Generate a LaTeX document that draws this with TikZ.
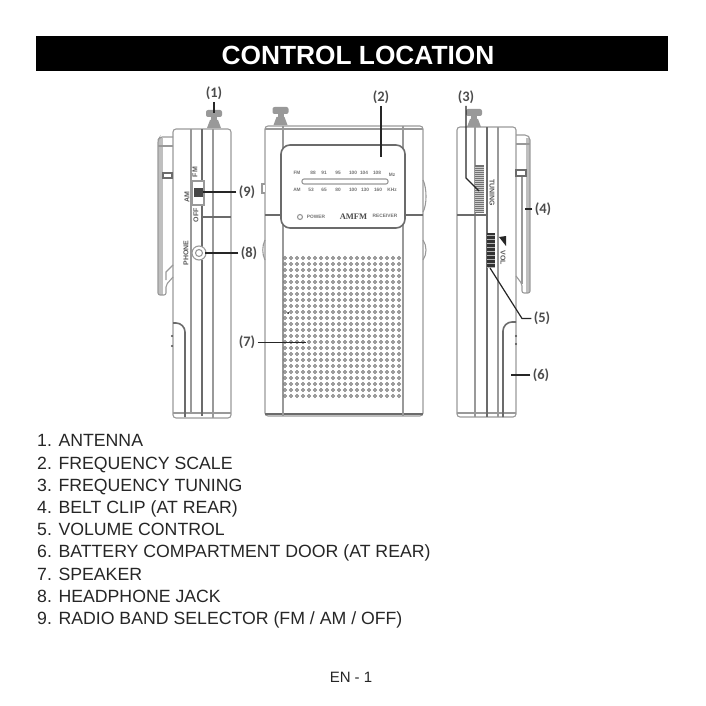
\documentclass[tikz,border=0pt]{standalone}
\usepackage{fontspec}
\setmainfont{Liberation Sans}
\newfontfamily\calloutfont{Carlito}
\newfontfamily\logofont{Liberation Serif}
\definecolor{bodyline}{gray}{0.6}
\definecolor{darkline}{gray}{0.42}
\definecolor{leaderline}{gray}{0.15}
\tikzset{
  bodyedge/.style={draw=bodyline,line width=1.1pt},
  darkedge/.style={draw=darkline,line width=1.6pt},
  leader/.style={draw=leaderline,line width=1.2pt},
  callout/.style={inner sep=0pt,outer sep=2.5pt,font=\calloutfont\bfseries\fontsize{14.5}{15}\selectfont,text=black!70},
  listitem/.style={anchor=west,inner sep=0pt,text height=13pt,text depth=3pt,font=\fontsize{17.7}{18}\selectfont,text=black!85},
  tinytext/.style={inner sep=0pt,font=\bfseries\fontsize{4.8}{5}\selectfont,text=black!55},
  sidetext/.style={inner sep=0pt,font=\bfseries\fontsize{7}{7}\selectfont,text=black!65},
}
\newcommand{\antenna}[2]{%
  \fill[bodyline] (#1-7,#2) -- (#1-4,#2-8) -- (#1+4,#2-8) -- (#1+7,#2) -- cycle;
  \fill[bodyline] (#1-3,#2-7) rectangle (#1+3,#2-12);
  \fill[bodyline,rounded corners=2pt] (#1-8,#2-11) rectangle (#1+8,#2-18);
}
\begin{document}
\begin{tikzpicture}[x=1pt,y=-1pt]
    \useasboundingbox (0,0) rectangle (706,706);

    % title bar
    \fill[black] (36,36) rectangle (668,71);
    \node (title) at (358,55) [inner sep=0pt,text=white,font=\bfseries\fontsize{26.3}{27}\selectfont] {CONTROL LOCATION};

    % left view
    \antenna{214}{128}
    \draw[bodyedge,rounded corners=3pt] (173,129) rectangle (231,418);
    \draw[bodyedge] (173,413) -- (231,413);
    \draw[bodyedge] (191,129) -- (191,413);
    \draw[darkedge] (202,129) -- (202,181);
    \draw[darkedge] (202,205) -- (202,248);
    \draw[darkedge] (202,260) -- (202,416);
    \draw[bodyedge] (213,129) -- (213,418);
    \draw[darkedge] (203,217) -- (231,217);
    \draw[darkedge,rounded corners=9pt] (173,323) -- (185,323) -- (185,417);
    \draw[bodyedge,fill=white] (192,181) rectangle (204,205);
    \fill[black!72] (193.5,188) rectangle (203,197);
    \fill[black!25] (158,138) rectangle (163,295);
    \draw[bodyedge,rounded corners=2pt] (173,137) -- (160,137) -- (158,140) -- (158,295) -- (166,295) -- (166,285) -- (173,277);
    \draw[bodyedge] (158,146) -- (173,146);
    \draw[bodyedge] (166,280) -- (166,272) -- (173,265);
    \draw[darkedge] (163,173) rectangle (172,178);
    \draw[bodyedge,fill=white] (199,253) circle (7);
    \draw[bodyedge] (199,253) circle (3.5);
    \fill[black!70] (172,336) circle (1.2);
    \fill[black!70] (172,346) circle (1.2);
    \node (fmleft) at (195,172) [sidetext,rotate=90] {FM};
    \node (amleft) at (187,197) [sidetext,rotate=90] {AM};
    \node (offleft) at (196,215) [sidetext,rotate=90] {OFF};
    \node (phoneleft) at (186,253) [sidetext,rotate=90] {PHONE};

    % front view
    \antenna{280.5}{125}
    \draw[bodyedge,rounded corners=3pt] (265,126) rectangle (423,416);
    \draw[bodyedge] (265,129) -- (423,129);
    \draw[darkedge] (265,414) -- (423,414);
    \draw[bodyedge] (283,126) -- (283,416);
    \draw[bodyedge] (403,126) -- (403,416);
    \draw[darkedge] (265,215) -- (283,215);
    \draw[darkedge] (403,215) -- (423,215);
    \draw[bodyedge,fill=white] (265,184) -- (262,184) -- (262,193) -- (265,193);
    \draw[bodyedge] (423,180) .. controls (427,188) and (427,205) .. (423,212);
    \draw[bodyedge] (423,240) .. controls (427,246) and (427,254) .. (423,260);
    \draw[bodyedge] (265,240) .. controls (262,246) and (262,254) .. (265,260);
    \draw[darkedge,fill=white,rounded corners=9pt] (281,145) rectangle (405,228);
    \draw[bodyedge,rounded corners=2pt] (302,179) rectangle (388,184);
    \node (fm) at (297,173) [tinytext] {FM};
    \foreach \x/\val in {313/88,324/91,338/95,353/100,364/104,377/108}
        \node at (\x,173) [tinytext] {\val};
    \node (mhz) at (392,175) [tinytext] {Mz};
    \node (am) at (297,190) [tinytext] {AM};
    \foreach \x/\val in {311/53,324/65,338/80,353/100,365/130,378/160}
        \node at (\x,190) [tinytext] {\val};
    \node (khz) at (392,190) [tinytext] {KHz};
    \draw[bodyedge] (300,217) circle (2.5);
    \node (power) at (316,217) [tinytext] {POWER};
    \node (amfm) at (353.5,217) [inner sep=0pt,text=black!70,font=\logofont\bfseries\fontsize{8.5}{9}\selectfont] {AMFM};
    \node (receiver) at (385,216) [tinytext] {RECEIVER};
    \foreach \i in {0,...,19}
        \foreach \j in {0,...,23}
            \draw[draw=black!52,line width=0.75pt] (285+\i*6,258+\j*6) circle (1.5);
    \fill[black] (288,313) circle (1);

    % right view
    \antenna{474}{127}
    \draw[bodyedge,rounded corners=3pt] (457,127) rectangle (516,417);
    \draw[bodyedge] (457,413) -- (516,413);
    \draw[bodyedge] (475,127) -- (475,417);
    \draw[darkedge] (487,127) -- (487,417);
    \draw[bodyedge] (498,127) -- (498,417);
    \fill[black!55] (475,165) rectangle (484,213);
    \foreach \y in {167,169,...,211}
        \draw[white!80!black,line width=0.4pt] (475,\y) -- (484,\y);
    \draw[darkedge] (457,215) -- (487,215);
    \fill[black!80] (487,233) rectangle (495,267);
    \foreach \y in {235,239,...,267}
        \draw[white!70!black,line width=0.5pt] (487,\y) -- (495,\y);
    \node (tuning) at (492,193) [sidetext,rotate=-90] {TUNING};
    \node (vol) at (503,258) [sidetext,rotate=-90] {VOL};
    \fill[black!85] (499,237) -- (506,236) -- (506,246) -- cycle;
    \draw[darkedge,rounded corners=9pt] (516,322) -- (503,322) -- (503,417);
    \fill[black!25] (526,138) rectangle (530,293);
    \draw[bodyedge,rounded corners=2pt] (516,135) -- (527,135) -- (530,138) -- (530,293) -- (522,293) -- (522,284) -- (516,276);
    \draw[bodyedge] (516,144) -- (530,144);
    \draw[bodyedge] (522,176) -- (522,284);
    \draw[darkedge] (516,170) rectangle (526,176);
    \fill[black!70] (516,336) circle (1.2);
    \fill[black!70] (516,344) circle (1.2);

    % callouts
    \node[callout] (1) at (214,93) {(1)};
    \node[callout] (2) at (381,97) {(2)};
    \node[callout] (3) at (466,97) {(3)};
    \node[callout] (4) at (543,209) {(4)};
    \node[callout] (5) at (542,318.5) {(5)};
    \node[callout] (6) at (541,375) {(6)};
    \node[callout] (7) at (247,342.5) {(7)};
    \node[callout] (8) at (249,253) {(8)};
    \node[callout] (9) at (247,192) {(9)};

    \coordinate (1e) at (214,113);
    \coordinate (2e) at (381,157);
    \coordinate (3a) at (466,178);
    \coordinate (3e) at (479,191);
    \coordinate (4e) at (525,209);
    \coordinate (5a) at (522,318.5);
    \coordinate (5e) at (490,268);
    \coordinate (6e) at (511,375);
    \coordinate (7e) at (306,342.5);
    \coordinate (8e) at (205,253);
    \coordinate (9e) at (203,192);

    \draw[leader] (1) -- (1e);
    \draw[leader] (2) -- (2e);
    \draw[leader] (3) -- (3a) -- (3e);
    \draw[leader] (4) -- (4e);
    \draw[leader] (5) -- (5a) -- (5e);
    \draw[leader] (6) -- (6e);
    \draw[leader] (7) -- (7e);
    \draw[leader] (8) -- (8e);
    \draw[leader] (9) -- (9e);

    % parts list
    \node[listitem] (i1) at (37,441) {1. ANTENNA};
    \node[listitem] (i2) at (37,464) {2. FREQUENCY SCALE};
    \node[listitem] (i3) at (37,486) {3. FREQUENCY TUNING};
    \node[listitem] (i4) at (37,508) {4. BELT CLIP (AT REAR)};
    \node[listitem] (i5) at (37,530) {5. VOLUME CONTROL};
    \node[listitem] (i6) at (37,552) {6. BATTERY COMPARTMENT DOOR (AT REAR)};
    \node[listitem] (i7) at (37,575) {7. SPEAKER};
    \node[listitem] (i8) at (37,597) {8. HEADPHONE JACK};
    \node[listitem] (i9) at (37,619) {9. RADIO BAND SELECTOR (FM / AM / OFF)};

    \node (page) at (351,677) [inner sep=0pt,text=black!85,font=\fontsize{15}{15}\selectfont] {EN - 1};
\end{tikzpicture}
\end{document}
